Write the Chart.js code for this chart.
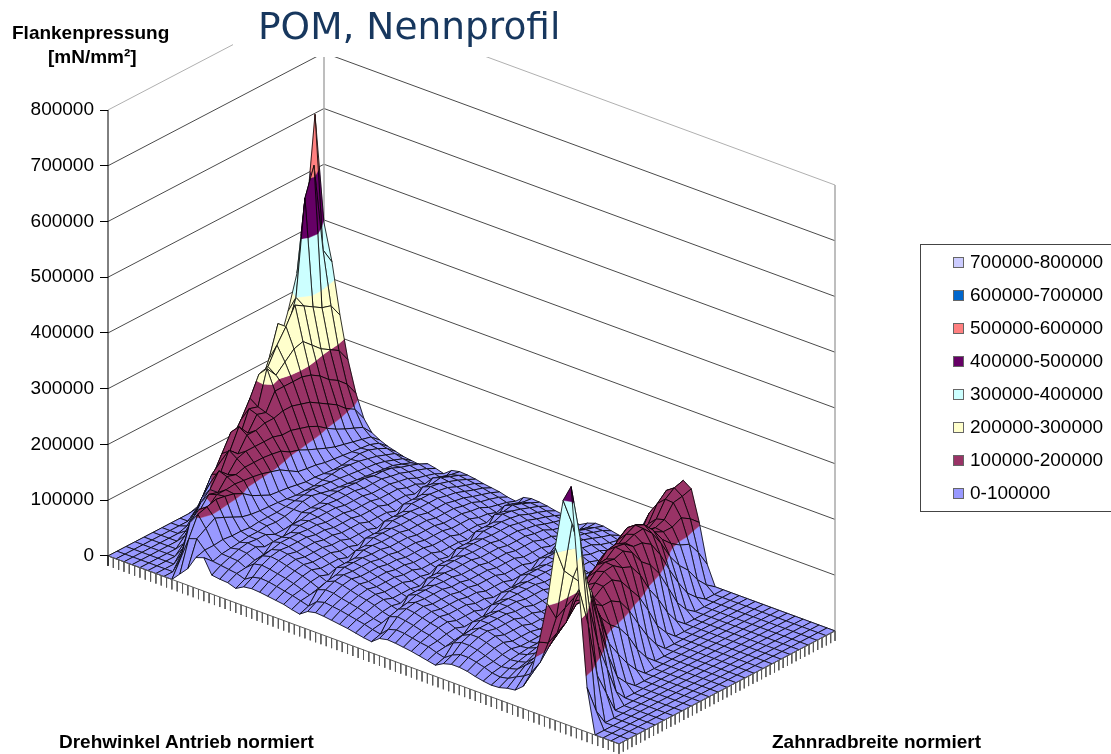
<!DOCTYPE html>
<html lang="de">
<head>
<meta charset="utf-8">
<title>POM, Nennprofil</title>
<style>
    html, body { margin: 0; padding: 0; background: #fff; }
    #wrap { position: relative; width: 1111px; height: 754px; overflow: hidden; font-family: "Liberation Sans", Arial, sans-serif; }
    canvas { position: absolute; left: 0; top: 0; }
    .lbl { position: absolute; font-weight: bold; font-size: 19px; color: #000; white-space: nowrap; }
    #titleBox { position: absolute; left: 233px; top: 0; width: 257px; height: 57px; background: #fff; }
    #title { position: absolute; left: 258px; top: 4px; font-family: "DejaVu Sans", Verdana, sans-serif; font-size: 37.5px; color: #17375e; white-space: nowrap; }
    #legend { position: absolute; left: 920px; top: 244px; width: 200px; height: 266px; border: 1px solid #444; box-sizing: content-box; }
    .item { position: absolute; left: 32px; font-size: 19px; color: #000; white-space: nowrap; line-height: 20px; }
    .swatch { display: inline-block; width: 9px; height: 9px; border: 1px solid #666; margin-right: 6px; }
</style>
</head>
<body>
<div id="wrap">
    <canvas id="surface" width="1111" height="754"></canvas>
    <div id="titleBox"></div>
    <div id="title">POM, Nennprofil</div>
    <div class="lbl" style="left:12px;top:22px">Flankenpressung</div>
    <div class="lbl" style="left:48px;top:46px">[mN/mm²]</div>
    <div class="lbl" style="left:59px;top:731px">Drehwinkel Antrieb normiert</div>
    <div class="lbl" style="left:772px;top:731px">Zahnradbreite normiert</div>
    <div id="legend"></div>
</div>

<script src="https://cdn.jsdelivr.net/npm/chart.js"></script>
<script>
// band labels and colours, lowest band first
const bandLabels = ['0-100000', '100000-200000', '200000-300000', '300000-400000', '400000-500000', '500000-600000', '600000-700000', '700000-800000'];
const bandColors = ['#9999ff', '#993366', '#ffffcc', '#ccffff', '#660066', '#ff8080', '#0066cc', '#ccccff'];

// pressure in 1000 mN/mm2, one row per drive angle step, one column per width step
const r00 = [0,0,0,0,0,0,0,0,0,0,5,15,30,50,70,90,115,140,175,220,270,330,420,598,395];
const r01 = [0,0,0,0,0,0,0,0,0,15,30,55,75,95,120,145,175,215,270,250,300,470,520,360,330];
const r02 = [0,0,0,0,0,0,0,5,25,45,70,95,120,145,175,210,215,245,270,300,290,280,270,265,240];
const r03 = [0,0,0,0,0,0,10,30,60,85,115,145,130,170,165,225,205,220,235,240,225,210,200,190,165];
const r04 = [0,0,0,0,0,15,40,70,100,115,125,160,140,165,160,190,190,190,190,185,175,160,150,135,110];
const r05 = [0,0,0,0,15,50,80,100,105,140,125,150,150,155,155,160,160,155,150,140,130,120,105,95,70];
const r06 = [0,0,0,20,60,85,100,125,110,130,135,135,135,135,130,130,125,120,112,100,90,82,75,68,50];
const r07 = [0,0,25,70,85,105,100,120,115,120,120,120,118,115,105,100,92,85,78,72,68,64,60,56,42];
const r08 = [0,30,85,100,95,110,110,112,110,108,105,100,95,85,75,72,70,66,64,62,60,58,56,50,36];
const r09 = [15,70,105,110,115,112,108,100,88,80,72,70,68,65,62,62,60,58,58,60,62,60,54,46,32];
const r10 = [30,75,85,95,88,80,72,68,66,65,64,62,60,60,60,62,64,66,64,62,58,54,48,42,28];
const r11 = [55,60,60,62,60,60,58,60,60,60,62,64,66,68,66,64,62,60,58,56,54,50,44,38,26];
const r12 = [60,45,50,52,54,56,56,58,56,58,62,68,70,66,62,60,58,56,54,52,50,48,42,36,24];
const r13 = [34,43,49,55,58,56,56,48,48,50,62,62,62,66,66,66,64,64,60,60,57,50,45,39,31];
const r14 = [32,41,48,53,56,48,48,48,62,62,66,66,66,64,64,64,60,60,60,56,53,47,42,36,28];
const r15 = [31,39,41,46,48,62,62,62,66,66,64,64,64,60,60,60,56,56,56,52,49,41,37,32,24];
const r16 = [26,34,53,59,62,66,66,66,64,64,60,60,60,56,56,56,52,52,52,46,44,36,32,28,35];
const r17 = [34,43,56,63,66,64,64,64,60,60,56,56,56,52,52,52,46,46,46,40,38,52,46,41,38];
const r18 = [36,46,54,61,64,60,60,60,56,56,52,52,52,46,46,46,40,40,40,58,55,58,51,45,37];
const r19 = [35,45,51,57,60,56,56,56,52,52,46,46,46,40,40,40,58,58,58,64,61,56,50,43,35];
const r20 = [33,42,48,53,56,52,52,52,46,46,40,40,40,58,58,58,64,64,64,62,59,52,46,41,32];
const r21 = [31,39,44,49,52,46,46,46,40,40,58,58,58,64,64,64,62,62,62,58,55,49,43,38,30];
const r22 = [29,36,39,44,46,40,40,40,58,58,64,64,64,62,62,62,58,58,58,54,51,45,40,35,28];
const r23 = [25,32,34,38,40,58,58,58,64,64,62,62,62,58,58,58,54,54,54,50,48,41,37,32,24];
const r24 = [22,28,49,55,58,64,64,64,62,62,58,58,58,54,54,54,50,50,50,46,44,36,32,28,22];
const r25 = [32,41,54,61,64,62,62,62,58,58,54,54,54,50,50,50,46,46,46,40,38,32,29,25,34];
const r26 = [35,45,53,59,62,58,58,58,54,54,50,50,50,46,46,46,40,40,40,36,34,50,45,39,37];
const r27 = [34,43,49,55,58,54,54,54,50,50,46,46,46,40,40,40,36,36,36,56,53,56,50,43,36];
const r28 = [32,41,46,51,54,50,50,50,46,46,40,40,40,36,36,36,56,56,56,62,59,54,48,42,34];
const r29 = [30,38,43,48,50,46,46,46,40,40,36,36,36,56,56,56,62,62,62,60,57,50,45,39,31];
const r30 = [28,35,39,44,46,40,40,40,36,36,56,56,56,62,62,62,60,60,60,56,53,47,42,36,29];
const r31 = [25,32,34,38,40,36,36,36,56,56,62,62,62,60,60,60,56,56,56,52,49,43,38,34,25];
const r32 = [22,28,31,34,36,56,56,56,62,62,60,60,60,56,56,56,52,52,52,48,46,38,34,29,22];
const r33 = [20,25,48,53,56,62,62,62,60,60,56,56,56,52,52,52,48,48,48,42,40,32,29,25,30];
const r34 = [31,39,53,59,62,60,60,60,56,56,52,52,52,48,48,48,42,42,42,36,34,45,40,35,35];
const r35 = [34,43,51,57,60,56,56,56,52,52,48,48,48,42,42,42,36,36,36,50,48,52,46,41,35];
const r36 = [33,42,48,53,56,52,52,52,48,48,42,42,42,36,36,36,50,50,50,58,55,52,46,41,32];
const r37 = [31,39,44,49,52,48,48,48,42,42,36,36,36,50,50,50,58,58,58,58,55,49,43,38,29];
const r38 = [29,36,41,46,48,42,42,42,36,36,50,50,50,58,58,58,58,58,58,54,51,43,38,34,25];
const r39 = [26,34,36,40,42,36,36,36,50,50,58,58,58,58,58,58,54,54,54,48,46,38,34,29,23];
const r40 = [23,29,31,34,36,50,50,50,58,58,58,58,58,54,54,54,48,48,48,42,40,34,35,35,36];
const r41 = [20,25,43,48,50,58,58,58,58,58,54,54,54,48,48,48,42,42,42,38,42,40,52,50,52];
const r42 = [28,35,49,55,58,58,58,58,54,54,48,48,48,42,42,42,38,38,50,55,60,62,85,85,82];
const r43 = [32,41,49,55,58,54,54,54,48,48,42,42,42,38,38,38,60,68,70,70,75,90,118,120,118];
const r44 = [32,41,46,51,54,48,48,48,42,42,38,38,38,40,60,70,82,88,90,90,100,112,140,155,150];
const r45 = [30,38,41,46,48,42,42,42,38,38,40,40,65,72,78,90,105,116,120,115,115,126,153,165,170];
const r46 = [26,34,36,40,42,38,38,38,40,40,62,70,85,93,99,119,140,145,140,126,124,130,152,155,160];
const r47 = [23,29,32,36,38,40,40,50,58,70,82,90,108,122,132,150,163,160,148,130,122,122,130,120,105];
const r48 = [21,27,34,38,42,46,52,60,75,90,105,119,144,154,153,165,173,165,147,122,106,95,88,65,35];
const r49 = [22,30,38,42,50,60,70,77,96,119,140,150,167,170,163,170,172,155,128,96,72,55,30,12,0];
const r50 = [26,38,50,55,65,85,90,100,128,150,163,165,178,175,162,160,149,122,87,55,28,12,0,0,0];
const r51 = [28,45,62,70,85,110,120,128,149,165,173,170,176,165,140,126,102,68,33,12,0,0,0,0,0];
const r52 = [40,55,75,90,105,130,140,140,158,170,172,160,153,130,96,70,38,14,0,0,0,0,0,0,0];
const r53 = [70,80,100,115,130,150,149,145,157,160,149,126,104,72,36,15,0,0,0,0,0,0,0,0,0];
const r54 = [130,120,130,140,170,165,148,136,136,126,102,70,40,16,0,0,0,0,0,0,0,0,0,0,0];
const r55 = [205,170,180,190,205,170,128,107,93,70,38,15,0,0,0,0,0,0,0,0,0,0,0,0,0];
const r56 = [310,260,240,220,200,140,87,60,35,15,0,0,0,0,0,0,0,0,0,0,0,0,0,0,0];
const r57 = [400,350,280,210,140,80,33,14,0,0,0,0,0,0,0,0,0,0,0,0,0,0,0,0,0];
const r58 = [430,330,200,120,70,20,0,0,0,0,0,0,0,0,0,0,0,0,0,0,0,0,0,0,0];
const r59 = [250,180,80,40,0,0,0,0,0,0,0,0,0,0,0,0,0,0,0,0,0,0,0,0,0];
const r60 = [80,30,0,0,0,0,0,0,0,0,0,0,0,0,0,0,0,0,0,0,0,0,0,0,0];
const r61 = [0,0,0,0,0,0,0,0,0,0,0,0,0,0,0,0,0,0,0,0,0,0,0,0,0];
const r62 = [0,0,0,0,0,0,0,0,0,0,0,0,0,0,0,0,0,0,0,0,0,0,0,0,0];
const r63 = [0,0,0,0,0,0,0,0,0,0,0,0,0,0,0,0,0,0,0,0,0,0,0,0,0];
const r64 = [0,0,0,0,0,0,0,0,0,0,0,0,0,0,0,0,0,0,0,0,0,0,0,0,0];

const rows = [r00,r01,r02,r03,r04,r05,r06,r07,r08,r09,r10,r11,r12,r13,r14,r15,r16,r17,r18,r19,r20,r21,r22,r23,r24,r25,r26,r27,r28,r29,r30,r31,r32,r33,r34,r35,r36,r37,r38,r39,r40,r41,r42,r43,r44,r45,r46,r47,r48,r49,r50,r51,r52,r53,r54,r55,r56,r57,r58,r59,r60,r61,r62,r63,r64];

const valueTicks = [0, 100000, 200000, 300000, 400000, 500000, 600000, 700000, 800000];
const driveTickCount = 96;
const widthTickCount = 50;

// oblique view: floor vectors in canvas pixels, px per full 800000 height
const pxPerValue = 446 / 800000;
function project(u, v, z) {
    return { x: 511 * u + 216 * v, y: z - (188 * u - 113 * v) / pxPerValue };
}

function clipAt(poly, level, keepAbove) {
    const out = [];
    for (let k = 0; k < poly.length; k++) {
        const a = poly[k], b = poly[(k + 1) % poly.length];
        const aIn = keepAbove ? a.z >= level : a.z <= level;
        const bIn = keepAbove ? b.z >= level : b.z <= level;
        if (aIn) out.push(a);
        if (aIn !== bIn) {
            const t = (level - a.z) / (b.z - a.z);
            out.push({ u: a.u + t * (b.u - a.u), v: a.v + t * (b.v - a.v), z: level });
        }
    }
    return out;
}

function polyData(poly) {
    return poly.map(c => project(c.u, c.v, c.z));
}

function strokeSet(points, color, width) {
    return { data: points, showLine: true, fill: false, borderColor: color, borderWidth: width, clip: false, tension: 0 };
}

// far things first, the list gets reversed because Chart.js paints the last dataset first
const sets = [];

// walls
valueTicks.forEach(val => {
    const c = val === 800000 ? '#b0b0b0' : '#4a4a4a';
    sets.push(strokeSet([project(0, 0, val), project(0, 1, val), project(1, 1, val)], c, 1));
});
sets.push(strokeSet([project(0, 1, 0), project(0, 1, 800000)], '#a8a8a8', 1.5));
sets.push(strokeSet([project(1, 1, 0), project(1, 1, 800000)], '#a8a8a8', 1.5));

// surface cells, back to front
const nu = rows.length - 1, nv = rows[0].length - 1;
for (let i = 0; i < nu; i++) {
    for (let j = nv - 1; j >= 0; j--) {
        const quad = [
            { u: i / nu, v: j / nv, z: rows[i][j] * 1000 },
            { u: (i + 1) / nu, v: j / nv, z: rows[i + 1][j] * 1000 },
            { u: (i + 1) / nu, v: (j + 1) / nv, z: rows[i + 1][j + 1] * 1000 },
            { u: i / nu, v: (j + 1) / nv, z: rows[i][j + 1] * 1000 }
        ];
        bandColors.forEach((color, b) => {
            let poly = clipAt(quad, b * 100000, true);
            if (poly.length >= 3) poly = clipAt(poly, (b + 1) * 100000, false);
            if (poly.length < 3) return;
            sets.push({ data: polyData(poly), showLine: true, fill: 'shape', backgroundColor: color,
                borderColor: color, borderWidth: 0.5, clip: false, tension: 0 });
        });
        const outline = polyData(quad);
        outline.push(outline[0]);
        sets.push(strokeSet(outline, 'rgba(0,0,0,0.9)', 0.9));
    }
}

// axis ticks along the two front edges of the floor
const tickDrop = -10 / pxPerValue;
const floorTicks = [];
for (let k = 0; k <= driveTickCount; k++) {
    floorTicks.push(project(k / driveTickCount, 0, 0), project(k / driveTickCount, 0, tickDrop), { x: 0, y: null });
}
for (let k = 1; k <= widthTickCount; k++) {
    floorTicks.push(project(1, k / widthTickCount, 0), project(1, k / widthTickCount, tickDrop), { x: 0, y: null });
}
sets.push(strokeSet(floorTicks, '#5a5a5a', 1));
sets.push(strokeSet([project(0, 0, 0), project(1, 0, 0), project(1, 1, 0)], '#5a5a5a', 1));
sets.push(strokeSet([project(0, 0, tickDrop), project(0, 0, 800000)], '#000', 1));

new Chart(document.getElementById('surface'), {
    type: 'scatter',
    data: { datasets: sets.reverse() },
    options: {
        responsive: false,
        animation: false,
        events: [],
        layout: { padding: { top: 110, right: 276, bottom: 3, left: 0 } },
        elements: { point: { radius: 0 } },
        plugins: { legend: { display: false }, tooltip: { enabled: false } },
        scales: {
            x: { type: 'linear', min: 0, max: 727, display: false },
            y: {
                type: 'linear',
                min: -350000,
                max: 800000,
                afterBuildTicks: scale => { scale.ticks = valueTicks.map(v => ({ value: v })); },
                afterFit: scale => { scale.width = 108; scale.paddingTop = 0; scale.paddingBottom = 0; },
                border: { display: false },
                grid: { drawOnChartArea: false, drawTicks: true, tickLength: 8, tickColor: '#000', tickWidth: 1 },
                ticks: {
                    color: '#000',
                    padding: 6,
                    autoSkip: false,
                    font: { family: '"Liberation Sans"', size: 19 },
                    callback: v => String(v)
                }
            }
        }
    }
});

// legend box, highest band on top
const legend = document.getElementById('legend');
for (let b = bandLabels.length - 1; b >= 0; b--) {
    const row = document.createElement('div');
    row.className = 'item';
    row.style.top = (7 + (bandLabels.length - 1 - b) * 33) + 'px';
    row.innerHTML = '<span class="swatch" style="background:' + bandColors[b] + '"></span>' + bandLabels[b];
    legend.appendChild(row);
}
</script>
</body>
</html>
